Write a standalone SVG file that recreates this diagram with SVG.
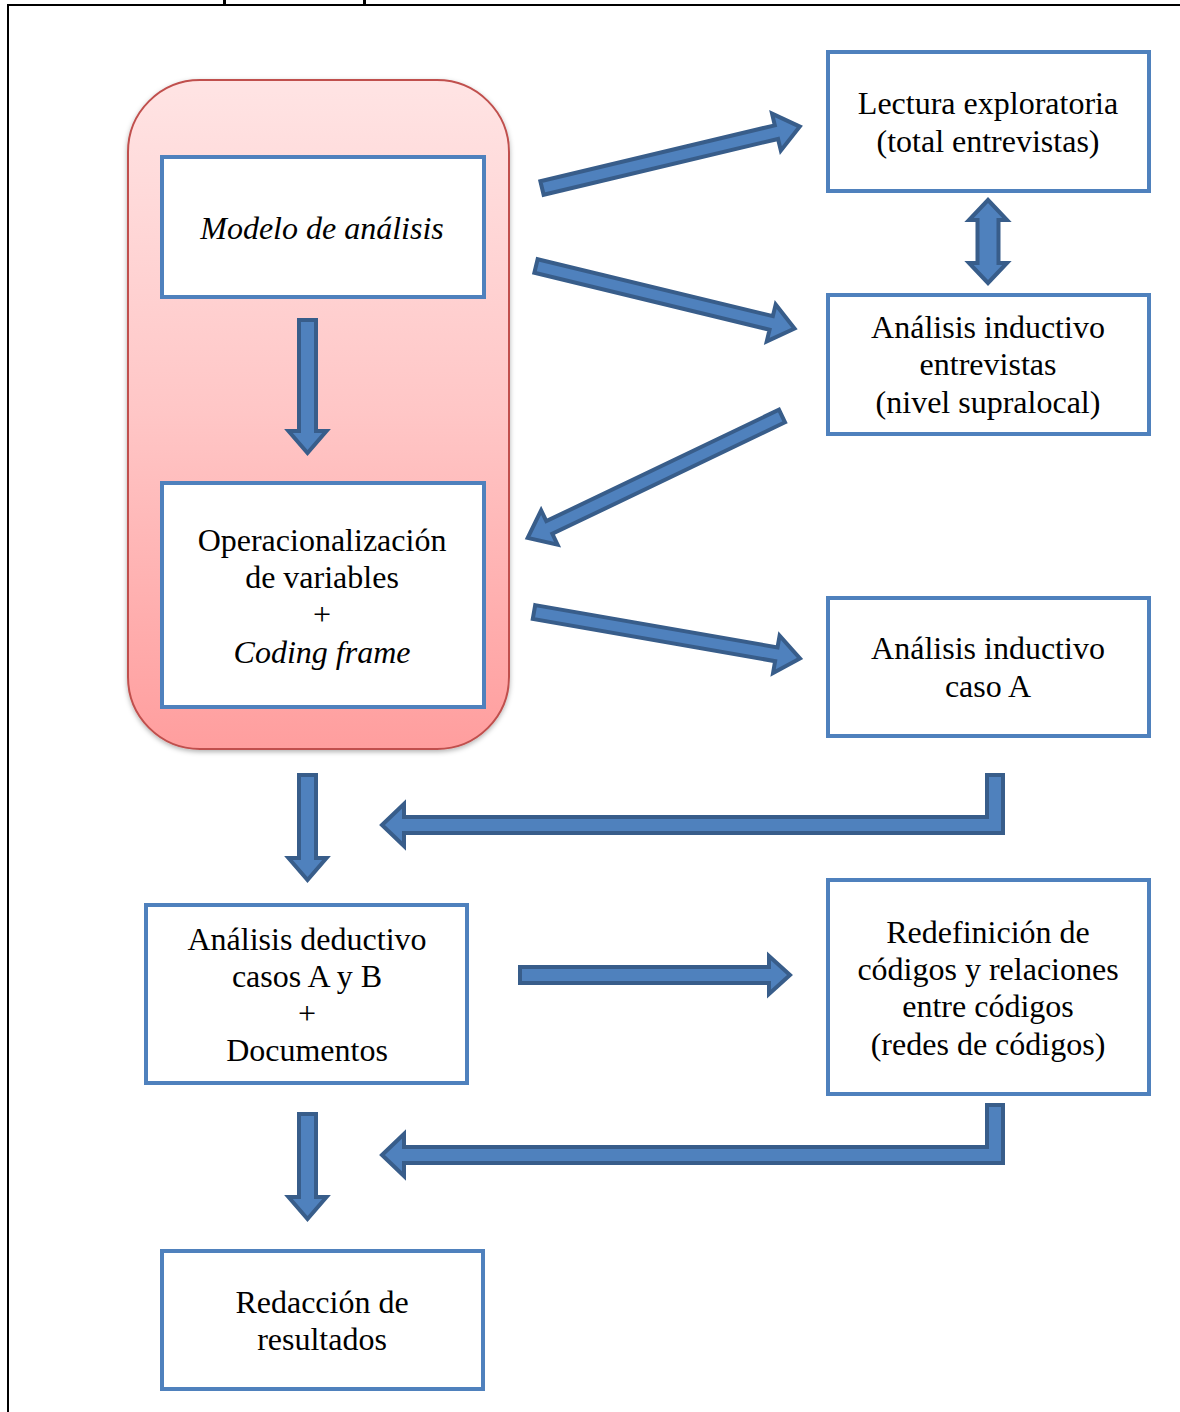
<svg xmlns="http://www.w3.org/2000/svg" width="1180" height="1412" viewBox="0 0 1180 1412">
  <defs>
    <linearGradient id="pinkFill" x1="0" y1="0" x2="0" y2="1">
      <stop offset="0" stop-color="#FFE4E4"/>
      <stop offset="0.5" stop-color="#FFC6C6"/>
      <stop offset="1" stop-color="#FF9E9E"/>
    </linearGradient>
    <filter id="softShadow" x="-10%" y="-10%" width="120%" height="120%">
      <feDropShadow dx="0" dy="2" stdDeviation="2.5" flood-color="#000000" flood-opacity="0.3"/>
    </filter>
  </defs>
  <style>
    .box { fill: #FFFFFF; stroke: #4F81BD; stroke-width: 4; }
    .arrow { fill: #4F81BD; stroke: #385D8A; stroke-width: 4; stroke-linejoin: miter; }
    .label { font-family: "Liberation Serif", "Times New Roman", serif; font-size: 32px; fill: #000000; text-anchor: middle; }
    .it { font-style: italic; }
    .frame { stroke: #000000; stroke-width: 2; fill: none; }
  </style>

  <rect width="1180" height="1412" fill="#FFFFFF"/>

  <!-- page frame -->
  <g id="frame">
    <line class="frame" x1="7" y1="5" x2="1180" y2="5"/>
    <line class="frame" x1="8" y1="4" x2="8" y2="1412"/>
    <rect x="223" y="0" width="3" height="5" fill="#000000"/>
    <rect x="363" y="0" width="3" height="5" fill="#000000"/>
  </g>

  <!-- pink container -->
  <g id="container">
    <rect x="128" y="80" width="381" height="669" rx="72" ry="72" fill="url(#pinkFill)" stroke="#C0504D" stroke-width="2" filter="url(#softShadow)"/>
  </g>

  <g id="connectors">
    <!-- inside container: Modelo -> Operacionalización -->
    <polygon class="arrow" transform="translate(307.5,320) rotate(90)" points="0,-8.5 111,-8.5 111,-19 133,0 111,19 111,8.5 0,8.5"/>
    <!-- to Lectura exploratoria -->
    <polygon class="arrow" transform="translate(542,188) rotate(-13.4)" points="0,-7 241,-7 241,-19 265,0 241,19 241,7 0,7"/>
    <!-- to Análisis inductivo entrevistas -->
    <polygon class="arrow" transform="translate(536,266) rotate(13.6)" points="0,-7 242,-7 242,-19 266,0 242,19 242,7 0,7"/>
    <!-- back to Operacionalización -->
    <polygon class="arrow" transform="translate(782,416) rotate(154.4)" points="0,-7 258,-7 258,-19 282,0 258,19 258,7 0,7"/>
    <!-- to caso A -->
    <polygon class="arrow" transform="translate(534,612) rotate(9.9)" points="0,-7 246,-7 246,-19 270,0 246,19 246,7 0,7"/>
    <!-- Lectura <-> Análisis inductivo -->
    <polygon class="arrow" points="988,200 1007,220 998.5,220 998.5,263 1007,263 988,283 969,263 977.5,263 977.5,220 969,220"/>
    <!-- caso A back to the left -->
    <polygon class="arrow" points="382,825 404,804 404,817 987,817 987,775 1003,775 1003,833 404,833 404,846"/>
    <!-- down to Análisis deductivo -->
    <polygon class="arrow" transform="translate(307.5,775) rotate(90)" points="0,-8.5 83,-8.5 83,-19 105,0 83,19 83,8.5 0,8.5"/>
    <!-- Análisis deductivo -> Redefinición -->
    <polygon class="arrow" transform="translate(520,975)" points="0,-8 249,-8 249,-19 270,0 249,19 249,8 0,8"/>
    <!-- Redefinición back to the left -->
    <polygon class="arrow" points="382,1155 404,1134 404,1147 987,1147 987,1105 1003,1105 1003,1163 404,1163 404,1176"/>
    <!-- down to Redacción -->
    <polygon class="arrow" transform="translate(307.5,1114) rotate(90)" points="0,-8.5 83,-8.5 83,-19 105,0 83,19 83,8.5 0,8.5"/>
  </g>

  <g id="modelo">
    <rect class="box" x="162" y="157" width="322" height="140"/>
    <text class="label it" x="322" y="239">Modelo de análisis</text>
  </g>

  <g id="operacionalizacion">
    <rect class="box" x="162" y="483" width="322" height="224"/>
    <text class="label" x="322" y="551">Operacionalización</text>
    <text class="label" x="322" y="588">de variables</text>
    <text class="label" x="322" y="625">+</text>
    <text class="label it" x="322" y="663">Coding frame</text>
  </g>

  <g id="lectura">
    <rect class="box" x="828" y="52" width="321" height="139"/>
    <text class="label" x="988" y="114">Lectura exploratoria</text>
    <text class="label" x="988" y="152">(total entrevistas)</text>
  </g>

  <g id="inductivo-entrevistas">
    <rect class="box" x="828" y="295" width="321" height="139"/>
    <text class="label" x="988" y="338">Análisis inductivo</text>
    <text class="label" x="988" y="375">entrevistas</text>
    <text class="label" x="988" y="413">(nivel supralocal)</text>
  </g>

  <g id="inductivo-caso-a">
    <rect class="box" x="828" y="598" width="321" height="138"/>
    <text class="label" x="988" y="659">Análisis inductivo</text>
    <text class="label" x="988" y="697">caso A</text>
  </g>

  <g id="deductivo">
    <rect class="box" x="146" y="905" width="321" height="178"/>
    <text class="label" x="307" y="950">Análisis deductivo</text>
    <text class="label" x="307" y="987">casos A y B</text>
    <text class="label" x="307" y="1024">+</text>
    <text class="label" x="307" y="1061">Documentos</text>
  </g>

  <g id="redefinicion">
    <rect class="box" x="828" y="880" width="321" height="214"/>
    <text class="label" x="988" y="943">Redefinición de</text>
    <text class="label" x="988" y="980">códigos y relaciones</text>
    <text class="label" x="988" y="1017">entre códigos</text>
    <text class="label" x="988" y="1055">(redes de códigos)</text>
  </g>

  <g id="redaccion">
    <rect class="box" x="162" y="1251" width="321" height="138"/>
    <text class="label" x="322" y="1313">Redacción de</text>
    <text class="label" x="322" y="1350">resultados</text>
  </g>
</svg>
